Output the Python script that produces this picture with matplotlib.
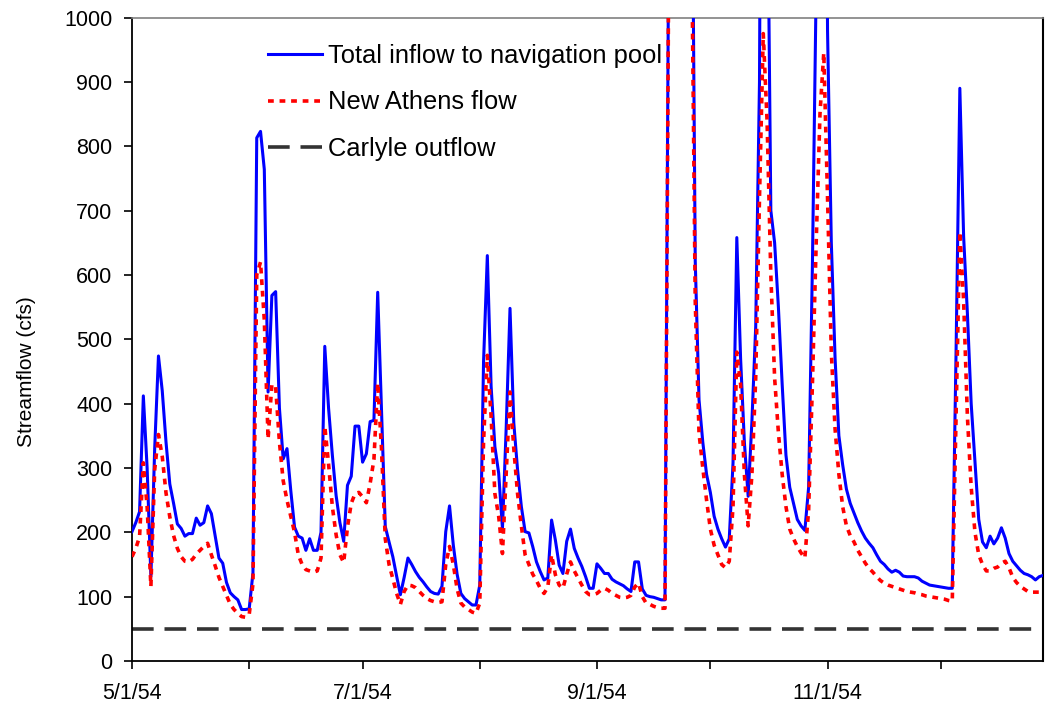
import matplotlib
matplotlib.use('Agg')
import matplotlib.pyplot as plt
import pandas as pd

# daily flows, 5/1/54 .. 12/28/54 (cfs)
inflow = [
    201, 215, 232, 412, 300, 131, 330, 474, 420, 340, 275, 245, 213, 206, 194, 198,
    198, 222, 211, 215, 241, 229, 195, 160, 152, 122, 106, 100, 95, 80, 80,            # May
    81, 137, 813, 823, 764, 418, 568, 574, 393, 314, 330, 265, 208, 194, 191,
    172, 190, 172, 172, 200, 489, 393, 320, 257, 215, 186, 273, 287, 365, 365,         # Jun
    309, 322, 372, 374, 573, 391, 209, 185, 162, 132, 103, 130, 160, 150, 139, 130,
    123, 115, 108, 105, 104, 116, 201, 241, 180, 135, 105, 97, 92, 87, 87,             # Jul
    118, 465, 630, 427, 333, 292, 206, 364, 548, 370, 297, 240, 201, 199, 178, 154,
    139, 126, 129, 219, 188, 149, 136, 186, 205, 175, 160, 147, 131, 113, 113,         # Aug
    151, 144, 136, 136, 127, 123, 120, 117, 112, 108, 154, 154, 112, 102, 100,
    99, 97, 95, 95, 1150, 2500, 3200, 2800, 2300, 1900, 1400, 622, 406, 340, 290,      # Sep
    262, 225, 205, 190, 177, 190, 308, 658, 470, 340, 256, 373, 520, 900, 2200, 1300,
    700, 650, 550, 430, 320, 270, 245, 220, 210, 203, 270, 615, 1050, 2000, 2000,      # Oct
    980, 650, 470, 350, 305, 267, 245, 230, 215, 202, 191, 183, 176, 165, 155,
    150, 143, 138, 141, 138, 132, 131, 131, 131, 129, 124, 121, 118, 117, 116,         # Nov
    115, 114, 113, 113, 480, 890, 660, 540, 400, 310, 220, 185, 176, 194,
    182, 191, 207, 191, 167, 155, 148, 141, 136, 134, 131, 126, 131, 133,              # Dec
]

athens = [
    162, 175, 193, 308, 240, 116, 297, 352, 318, 261, 224, 195, 175, 162, 155, 154,
    158, 166, 172, 178, 183, 165, 148, 130, 116, 102, 88, 80, 74, 69, 68,
    72, 120, 600, 620, 530, 345, 430, 426, 340, 280, 250, 225, 200, 165, 150,
    142, 140, 138, 140, 160, 365, 306, 240, 196, 165, 153, 208, 245, 260, 262,
    255, 246, 276, 313, 432, 330, 190, 150, 128, 105, 88, 108, 118, 117, 114, 108,
    102, 97, 94, 92, 91, 92, 150, 178, 150, 112, 90, 84, 80, 76, 74,
    90, 340, 475, 380, 260, 225, 167, 292, 418, 330, 260, 210, 165, 150, 135, 125,
    113, 105, 115, 165, 134, 118, 113, 135, 154, 140, 129, 118, 108, 103, 103,
    105, 110, 113, 110, 105, 102, 99, 98, 99, 102, 115, 121, 100, 90, 88,
    85, 83, 82, 82, 1100, 2000, 2600, 2300, 1900, 1500, 1150, 560, 354, 300, 250,
    205, 180, 165, 150, 145, 155, 240, 480, 430, 290, 210, 290, 440, 720, 975, 840,
    600, 440, 355, 290, 240, 205, 190, 178, 168, 160, 235, 430, 650, 850, 945,
    720, 480, 360, 290, 240, 210, 195, 185, 172, 162, 152, 144, 138, 131, 125,
    121, 118, 116, 114, 112, 110, 108, 107, 106, 104, 103, 101, 100, 99, 98,
    97, 96, 94, 93, 380, 667, 560, 380, 270, 200, 165, 150, 140, 140,
    144, 146, 152, 155, 145, 130, 122, 116, 112, 108, 107, 107, 107, 107,
]

carlyle_outflow = 50
tick_labels = ['5/1/54', '', '7/1/54', '', '9/1/54', '', '11/1/54', '']

dates = pd.date_range('1954-05-01', periods=len(inflow), freq='D')
carlyle = [carlyle_outflow] * len(dates)
month_starts = pd.date_range('1954-05-01', '1954-12-01', freq='MS')

plt.rcParams['font.family'] = ['Liberation Sans', 'DejaVu Sans']

fig = plt.figure(figsize=(10.46, 7.11), dpi=100)
ax = fig.add_axes([132 / 1046, 1 - 661 / 711, (1043 - 132) / 1046, (661 - 17.5) / 711])

ax.plot(dates, inflow, color='#0000FF', lw=2.2, label='Total inflow to navigation pool', zorder=3)
ax.plot(dates, athens, color='#FF0000', lw=2.6, dashes=(1.6, 1.6), label='New Athens flow', zorder=4)
ax.plot(dates, carlyle, color='#333333', lw=2.6, dashes=(6, 3), label='Carlyle outflow', zorder=2)

ax.set_ylim(0, 1000)
ax.set_yticks(range(0, 1001, 100))
ax.set_xlim(dates[0], dates[-1])
ax.set_xticks(month_starts)
ax.set_xticklabels(tick_labels)

ax.tick_params(axis='both', direction='out', length=6, width=1.2, labelsize=15.5, colors='black')
ax.tick_params(axis='y', pad=8)
ax.tick_params(axis='x', pad=10)

for side in ['left', 'bottom']:
    ax.spines[side].set_linewidth(1.3)
    ax.spines[side].set_color('black')
ax.spines['right'].set_linewidth(1.5)
ax.spines['right'].set_color('black')
ax.spines['top'].set_linewidth(1.2)
ax.spines['top'].set_color('#808080')

fig.text(27 / 1046, 1 - 372 / 711, 'Streamflow (cfs)', rotation=90, ha='center', va='center', fontsize=15)

ax.legend(loc='upper left', bbox_to_anchor=(268 / 1046, 1 - 44 / 711), bbox_transform=fig.transFigure,
          frameon=False, fontsize=18.4, handlelength=2.1, handletextpad=0.25, labelspacing=0.88,
          borderpad=0, borderaxespad=0)

fig.savefig('out.png', dpi=100)
